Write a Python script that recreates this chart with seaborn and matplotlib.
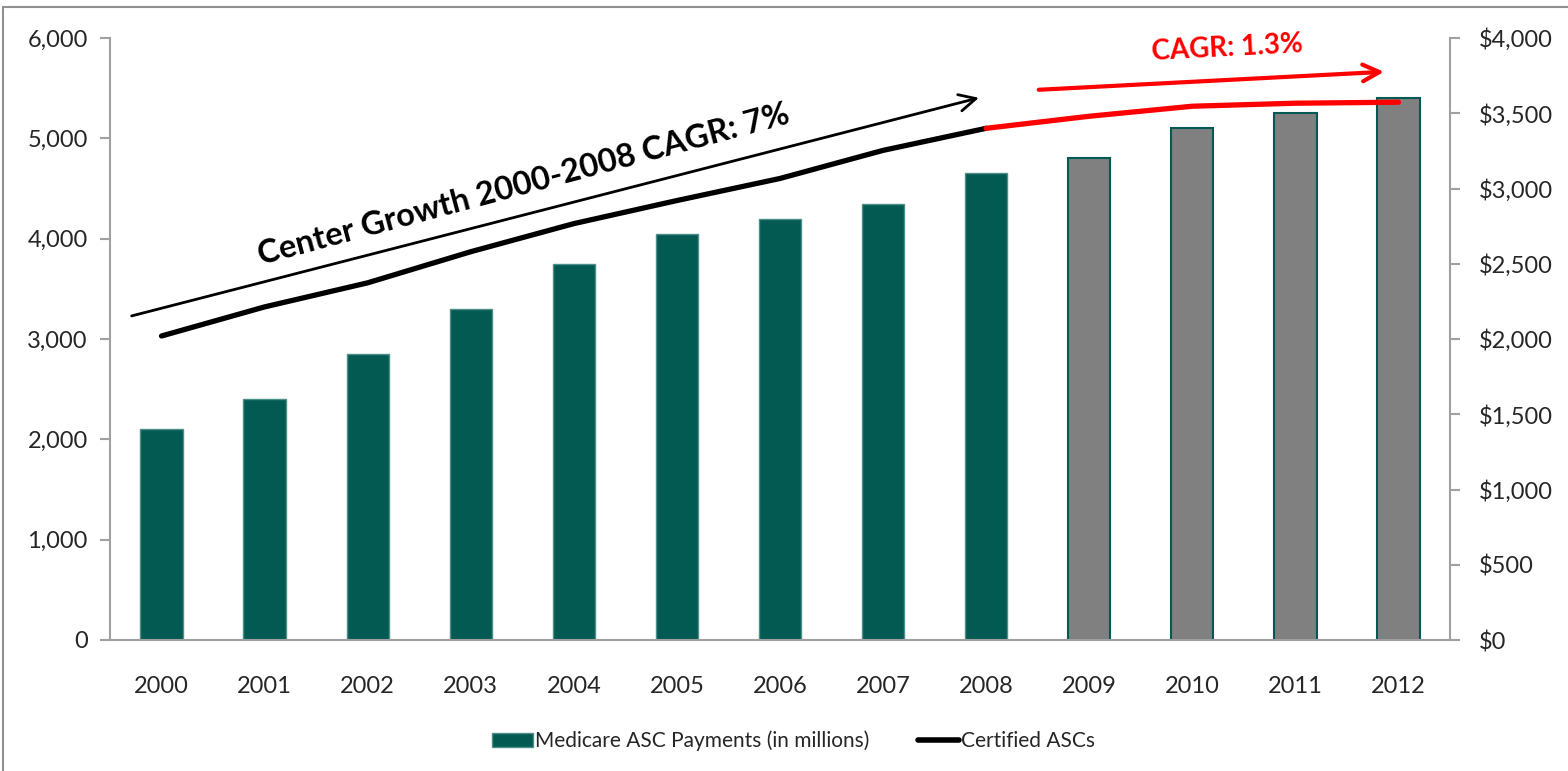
import matplotlib
matplotlib.use("Agg")
import matplotlib.pyplot as plt
import matplotlib.ticker as mticker
from matplotlib.lines import Line2D
from matplotlib.patches import Patch, Rectangle
import seaborn as sns
import pandas as pd

# ---- data ----
years = ["2000", "2001", "2002", "2003", "2004", "2005", "2006",
         "2007", "2008", "2009", "2010", "2011", "2012"]
payments = [1400, 1600, 1900, 2200, 2500, 2700, 2800, 2900, 3100,
            3200, 3400, 3500, 3600]           # Medicare ASC Payments ($ millions)
certified = [3030, 3320, 3560, 3870, 4150, 4380, 4600, 4880, 5100,
             5220, 5320, 5350, 5360]          # Certified ASCs
split_idx = 8   # last year of 2000-2008 period

TEAL = "#035A53"
GRAY = "#808080"

sns.set_theme(style="white")
plt.rcParams["font.family"] = ["Lato", "DejaVu Sans"]

df = pd.DataFrame({"year": years, "payments": payments, "certified": certified,
                   "period": ["hist" if i <= split_idx else "late" for i in range(len(years))]})

fig = plt.figure(figsize=(15.68, 7.71), dpi=100)
ax = fig.add_axes([110/1568, 1-640/771, 1340/1568, 602/771])
axb = ax.twinx()

# bars on right axis
sns.barplot(data=df, x="year", y="payments", hue="period",
            palette={"hist": TEAL, "late": GRAY}, dodge=False, width=0.41,
            saturation=1, ax=axb, legend=False, edgecolor="#4f8f89", linewidth=1.0)
for bar in axb.patches:
    if bar.get_facecolor()[:3] == matplotlib.colors.to_rgb(GRAY):
        bar.set_edgecolor(TEAL)
        bar.set_linewidth(1.5)

# line on left axis
xpos = list(range(len(years)))
hist = pd.DataFrame({"x": xpos[:split_idx+1], "y": certified[:split_idx+1]})
late = pd.DataFrame({"x": xpos[split_idx:], "y": certified[split_idx:]})
sns.lineplot(data=hist, x="x", y="y", ax=ax, color="black", linewidth=3.8,
             solid_capstyle="round")
sns.lineplot(data=late, x="x", y="y", ax=ax, color="#FF0000", linewidth=3.8,
             solid_capstyle="round")

ax.set_zorder(axb.get_zorder() + 1)
ax.patch.set_visible(False)

# axes limits and ticks
ax.set_xlim(-0.5, 12.5)
axb.set_xlim(-0.5, 12.5)
ax.set_ylim(0, 6000)
axb.set_ylim(0, 4000)
ax.yaxis.set_major_locator(mticker.MultipleLocator(1000))
axb.yaxis.set_major_locator(mticker.MultipleLocator(500))
ax.yaxis.set_major_formatter(mticker.FuncFormatter(lambda v, p: f"{int(v):,}"))
axb.yaxis.set_major_formatter(mticker.FuncFormatter(lambda v, p: f"${int(v):,}"))

ax.set_xticks(xpos)
ax.set_xticklabels(years)
ax.set_xticks([i - 0.5 for i in range(len(years) + 1)], minor=True)
ax.tick_params(axis="x", which="major", length=0, pad=26, labelsize=17)
ax.tick_params(axis="x", which="minor", length=8, width=1.5, color="#a0a0a0", direction="out")
ax.tick_params(axis="y", length=7, width=1.5, color="#a0a0a0", direction="out",
               pad=9, labelsize=17, left=True)
axb.tick_params(axis="y", length=7, width=1.5, color="#a0a0a0", direction="out",
                pad=14, labelsize=17, right=True)
axb.tick_params(axis="x", bottom=False, labelbottom=False)
ax.set_xlabel("")
ax.set_ylabel("")
axb.set_xlabel("")
axb.set_ylabel("")

for a in (ax, axb):
    a.spines["top"].set_visible(False)
ax.spines["right"].set_visible(False)
axb.spines["left"].set_visible(False)
axb.spines["bottom"].set_visible(False)
for s in (ax.spines["left"], ax.spines["bottom"], axb.spines["right"]):
    s.set_color("#a0a0a0")
    s.set_linewidth(1.5)

# annotations
ax.annotate("", xy=(7.93, 5404), xytext=(-0.29, 3230),
            arrowprops=dict(arrowstyle="->,head_length=1.0,head_width=0.5",
                            color="black", lw=2.0, shrinkA=0, shrinkB=0))
ax.text(3.51, 4536, "Center Growth 2000-2008 CAGR: 7%", fontsize=23.5,
        fontweight="bold", rotation=15, rotation_mode="anchor",
        ha="center", va="center", color="black")
ax.annotate("", xy=(11.86, 5663), xytext=(8.51, 5484),
            arrowprops=dict(arrowstyle="->,head_length=1.0,head_width=0.5",
                            color="#FF0000", lw=3.0, shrinkA=0, shrinkB=0))
ax.text(10.34, 5902, "CAGR: 1.3%", fontsize=20, fontweight="bold",
        rotation=3, rotation_mode="anchor", ha="center", va="center",
        color="#FF0000")

# legend
handles = [Patch(facecolor=TEAL, edgecolor="#4f8f89", label="Medicare ASC Payments (in millions)"),
           Line2D([0], [0], color="black", lw=4, label="Certified ASCs")]
fig.legend(handles=handles, loc="center", bbox_to_anchor=(0.506, 0.039), ncol=2,
           frameon=False, fontsize=15, handlelength=2.0, handletextpad=0.1,
           columnspacing=2.3)

# outer frame fragment
fig.add_artist(Rectangle((3/1568, -0.1), 2.0, 1 - 7/771 + 0.1, transform=fig.transFigure,
                         fill=False, edgecolor="#909090", linewidth=1.5))

fig.savefig("out.png", dpi=100)
